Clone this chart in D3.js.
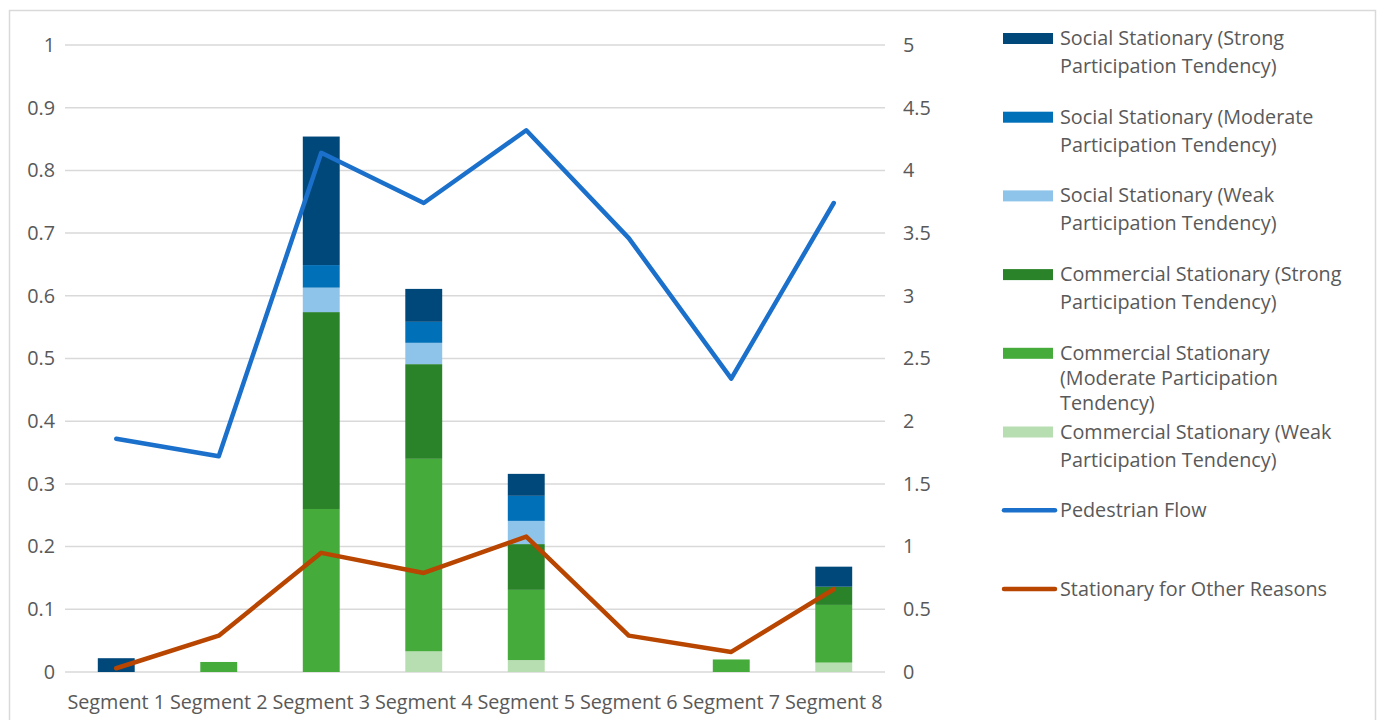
<!DOCTYPE html>
<html>
<head>
<meta charset="utf-8">
<script src="https://cdn.jsdelivr.net/npm/d3@7"></script>
<style>
  html, body { margin: 0; padding: 0; background: #fff; }
  svg { display: block; }
  text { font-family: "Open Sans", Lato, sans-serif; fill: #595959; }
</style>
</head>
<body>
<svg id="chart" width="1384" height="720"></svg>
<script>
// Segments along the street
const categories = ["Segment 1", "Segment 2", "Segment 3", "Segment 4", "Segment 5", "Segment 6", "Segment 7", "Segment 8"];

// Stationary behaviour shares (left axis), stacked bottom to top
const commercialWeak     = [0,     0,     0,     0.033,  0.019, 0, 0,     0.015];
const commercialModerate = [0,     0.016, 0.260, 0.307,  0.112, 0, 0.020, 0.092];
const commercialStrong   = [0,     0,     0.314, 0.151,  0.073, 0, 0,     0.029];
const socialWeak         = [0,     0,     0.039, 0.034,  0.037, 0, 0,     0];
const socialModerate     = [0,     0,     0.036, 0.0335, 0.040, 0, 0,     0];
const socialStrong       = [0.022, 0,     0.205, 0.0525, 0.035, 0, 0,     0.032];

// Line series (right axis)
const pedestrianFlow = [1.86, 1.72, 4.14, 3.74, 4.32, 3.46, 2.34, 3.74];
const otherReasons   = [0.03, 0.29, 0.95, 0.79, 1.08, 0.29, 0.16, 0.66];

// Axis ticks
const leftTicks  = [0, 0.1, 0.2, 0.3, 0.4, 0.5, 0.6, 0.7, 0.8, 0.9, 1];
const rightTicks = [0, 0.5, 1, 1.5, 2, 2.5, 3, 3.5, 4, 4.5, 5];

// Series definitions for the stack (bottom first)
const barSeries = [
  { key: "cw", values: commercialWeak,     color: "#b7deb0", lines: ["Commercial Stationary (Weak", "Participation Tendency)"] },
  { key: "cm", values: commercialModerate, color: "#45ab3b", lines: ["Commercial Stationary", "(Moderate Participation", "Tendency)"] },
  { key: "cs", values: commercialStrong,   color: "#2a8229", lines: ["Commercial Stationary (Strong", "Participation Tendency)"] },
  { key: "sw", values: socialWeak,         color: "#8ec4ea", lines: ["Social Stationary (Weak", "Participation Tendency)"] },
  { key: "sm", values: socialModerate,     color: "#0070b8", lines: ["Social Stationary (Moderate", "Participation Tendency)"] },
  { key: "ss", values: socialStrong,       color: "#00477a", lines: ["Social Stationary (Strong", "Participation Tendency)"] }
];
const lineSeries = [
  { values: pedestrianFlow, color: "#1a70cb", lines: ["Pedestrian Flow"] },
  { values: otherReasons,   color: "#b84500", lines: ["Stationary for Other Reasons"] }
];

const FONT = "19.8px";
const svg = d3.select("#chart");

// Outer frame
svg.append("rect")
  .attr("x", 9.5).attr("y", 10.5).attr("width", 1366).attr("height", 720)
  .attr("fill", "none").attr("stroke", "#d9d9d9").attr("stroke-width", 1.5);

const plot = { left: 65, right: 885, top: 45, bottom: 672 };

const x = d3.scaleBand().domain(categories)
  .range([plot.left, plot.right]).paddingInner(0.64).paddingOuter(0.32);
const yL = d3.scaleLinear().domain([0, 1]).range([plot.bottom, plot.top]);
const yR = d3.scaleLinear().domain([0, 5]).range([plot.bottom, plot.top]);

// Gridlines
svg.append("g").selectAll("line").data(leftTicks).join("line")
  .attr("x1", plot.left).attr("x2", plot.right)
  .attr("y1", d => yL(d)).attr("y2", d => yL(d))
  .attr("stroke", "#d9d9d9").attr("stroke-width", 1.5);

// Left axis
const leftAxis = svg.append("g").attr("transform", `translate(${plot.left},0)`)
  .call(d3.axisLeft(yL).tickValues(leftTicks).tickSize(0).tickPadding(10).tickFormat(d3.format("")));
leftAxis.select(".domain").remove();
leftAxis.selectAll("text").style("font-size", FONT).attr("fill", "#595959");

// Right axis
const rightAxis = svg.append("g").attr("transform", `translate(${plot.right},0)`)
  .call(d3.axisRight(yR).tickValues(rightTicks).tickSize(0).tickPadding(18).tickFormat(d3.format("")));
rightAxis.select(".domain").remove();
rightAxis.selectAll("text").style("font-size", FONT).attr("fill", "#595959");

// Bottom axis
const bottomAxis = svg.append("g").attr("transform", `translate(0,${plot.bottom})`)
  .call(d3.axisBottom(x).tickSize(0).tickPadding(23));
bottomAxis.select(".domain").remove();
bottomAxis.selectAll("text").style("font-size", FONT).attr("fill", "#595959");

// Stacked bars
const rows = categories.map((c, i) => {
  const r = { cat: c };
  barSeries.forEach(s => { r[s.key] = s.values[i]; });
  return r;
});
const stacked = d3.stack().keys(barSeries.map(s => s.key))(rows);
svg.append("g").selectAll("g").data(stacked).join("g")
  .attr("fill", (d, i) => barSeries[i].color)
  .selectAll("rect").data(d => d).join("rect")
  .attr("x", d => x(d.data.cat))
  .attr("width", x.bandwidth())
  .attr("y", d => yL(d[1]))
  .attr("height", d => Math.max(0, yL(d[0]) - yL(d[1])));

// Lines on the secondary axis
const line = d3.line()
  .x((d, i) => x(categories[i]) + x.bandwidth() / 2)
  .y(d => yR(d));
lineSeries.forEach(s => {
  svg.append("path").datum(s.values)
    .attr("d", line)
    .attr("fill", "none").attr("stroke", s.color)
    .attr("stroke-width", 4.5).attr("stroke-linejoin", "round").attr("stroke-linecap", "round");
});

// Legend
const legendItems = barSeries.slice().reverse().map(s => ({ type: "bar", color: s.color, lines: s.lines }))
  .concat(lineSeries.map(s => ({ type: "line", color: s.color, lines: s.lines })));
const legend = svg.append("g").attr("transform", "translate(1003,38)");
const lg = legend.selectAll("g").data(legendItems).join("g")
  .attr("transform", (d, i) => `translate(0,${i * 78.7})`);
lg.filter(d => d.type === "bar").append("rect")
  .attr("x", 0).attr("y", -5).attr("width", 50).attr("height", 11)
  .attr("fill", d => d.color);
lg.filter(d => d.type === "line").append("line")
  .attr("x1", 1).attr("x2", 52).attr("y1", 0).attr("y2", 0)
  .attr("stroke", d => d.color).attr("stroke-width", 4.5).attr("stroke-linecap", "round");
lg.append("text")
  .attr("x", 57).attr("y", 7)
  .style("font-size", FONT)
  .each(function (d) {
    // three-line entries are set a little tighter so they clear the next entry
    const lead = d.lines.length > 2 ? 25 : 28;
    d3.select(this).selectAll("tspan").data(d.lines).join("tspan")
      .attr("x", 57).attr("dy", (t, i) => i === 0 ? 0 : lead)
      .text(t => t);
  });
</script>
</body>
</html>
